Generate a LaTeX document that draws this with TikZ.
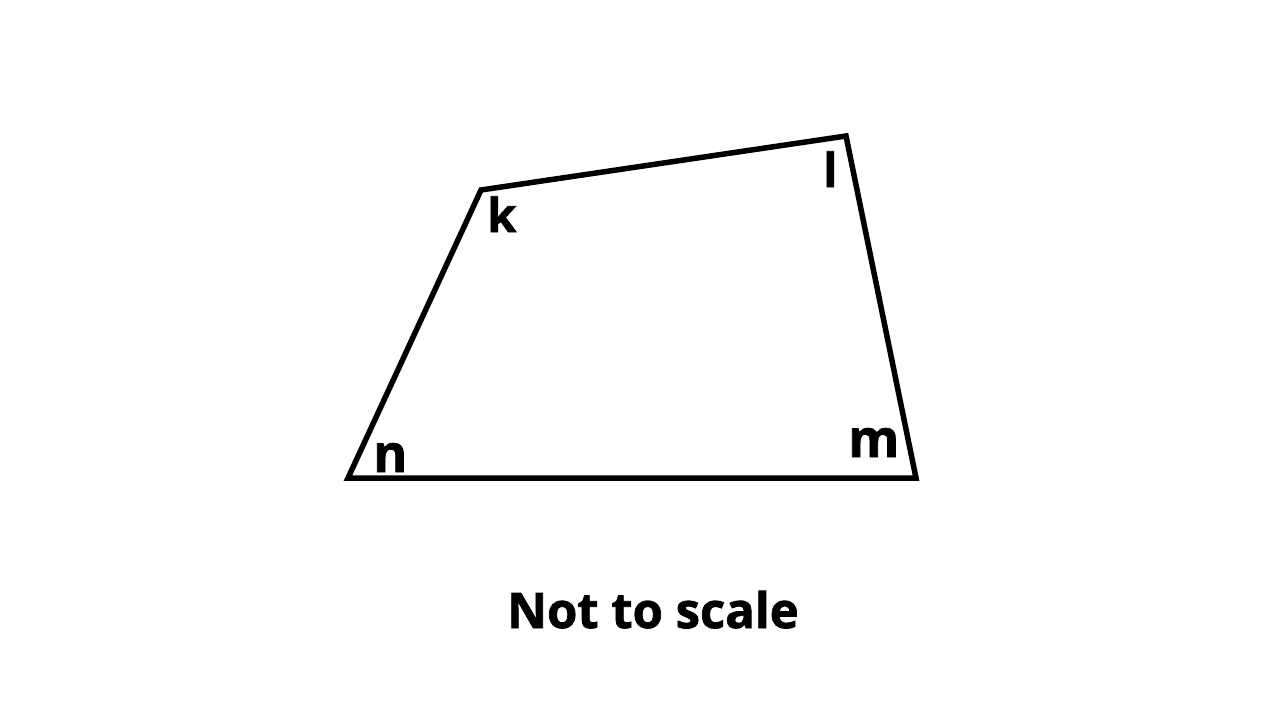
\documentclass[tikz,border=0pt]{standalone}
\usepackage{fontspec}
\setmainfont{Open Sans}[BoldFont={Open Sans Bold},BoldFeatures={FakeBold=1.5}]
\begin{document}
\begin{tikzpicture}[x=1pt,y=-1pt,
  edge/.style={draw=black,line width=5.5pt,line join=miter},
  lbl/.style={inner sep=0pt,anchor=base west,font=\bfseries\fontsize{47}{50}\selectfont},
  biglbl/.style={inner sep=0pt,anchor=base west,font=\bfseries\fontsize{52}{56}\selectfont}]
\useasboundingbox[fill=white] (0,0) rectangle (1280,720);
\coordinate (N) at (348,478);
\coordinate (K) at (481,190);
\coordinate (L) at (846,136);
\coordinate (M) at (916,478);
\draw[edge] (N) -- (K) -- (L) -- (M) -- cycle;
\node[lbl] (k) at (487,232) {k};
\node[lbl] (l) at (823,187) {l};
\node[biglbl] (n) at (373,472) {n};
\node[biglbl] (m) at (848,457) {m};
\node[inner sep=0pt,anchor=base,font=\bfseries\fontsize{49}{54}\selectfont] (cap) at (653,628) {Not to scale};
\end{tikzpicture}
\end{document}
